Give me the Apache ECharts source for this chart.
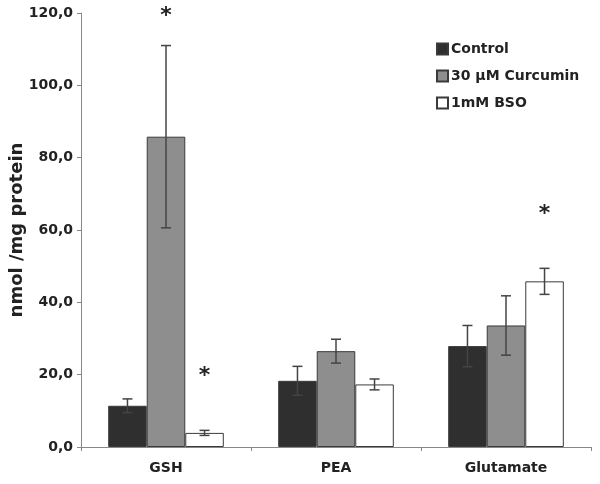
<!DOCTYPE html>
<html><head><meta charset="utf-8">
<script src="https://cdn.jsdelivr.net/npm/echarts@6/dist/echarts.min.js"></script>
<style>html,body{margin:0;padding:0;background:#fff}#c{width:600px;height:484px}</style>
</head><body><div id="c"></div>
<script>
var categories = ['GSH', 'PEA', 'Glutamate'];
var seriesNames = ['Control', '30 µM Curcumin', '1mM BSO'];
var controlValues = [11.4, 18.3, 27.9];
var curcuminValues = [85.8, 26.5, 33.6];
var bsoValues = [3.9, 17.3, 45.8];
var controlErrors = [1.9, 4.0, 5.7];
var curcuminErrors = [25.2, 3.3, 8.2];
var bsoErrors = [0.7, 1.5, 3.6];
var controlStars = [false, false, false];
var curcuminStars = [true, false, false];
var bsoStars = [true, false, true];
var yTicks = [0, 20, 40, 60, 80, 100, 120];

var values = [controlValues, curcuminValues, bsoValues];
var errors = [controlErrors, curcuminErrors, bsoErrors];
var stars = [controlStars, curcuminStars, bsoStars];
var fills = ['#2f2f2f', '#8e8e8e', '#ffffff'];
var catGap = 0.32;
var FONT = '"DejaVu Sans", sans-serif';

var chart = echarts.init(document.getElementById('c'), null, {renderer: 'canvas'});

var series = [];
seriesNames.forEach(function (name, s) {
  series.push({
    name: name, type: 'bar', data: values[s],
    barGap: 0, barCategoryGap: (catGap * 100) + '%',
    itemStyle: {color: fills[s], borderColor: '#3a3a3a', borderWidth: 1},
    emphasis: {disabled: true}, animation: false
  });
});
seriesNames.forEach(function (name, s) {
  series.push({
    type: 'custom', silent: true, animation: false, z: 5,
    data: categories.map(function (c, i) { return [i, values[s][i], errors[s][i], stars[s][i] ? 1 : 0]; }),
    encode: {x: 0, y: 1},
    renderItem: function (params, api) {
      var i = api.value(0), v = api.value(1), e = api.value(2), st = api.value(3);
      var center = api.coord([i, v]);
      var band = api.size([1, 0])[0];
      var bw = band * (1 - catGap) / 3;
      var x = center[0] + (s - 1) * bw;
      var top = api.coord([i, v + e])[1];
      var bot = api.coord([i, v - e])[1];
      var cap = 5;
      var st2 = {stroke: '#444', lineWidth: 1.5};
      var children = [
        {type: 'line', shape: {x1: x, y1: top, x2: x, y2: bot}, style: st2},
        {type: 'line', shape: {x1: x - cap, y1: top, x2: x + cap, y2: top}, style: st2},
        {type: 'line', shape: {x1: x - cap, y1: bot, x2: x + cap, y2: bot}, style: st2}
      ];
      if (st) {
        children.push({type: 'text', style: {text: '*', x: x, y: top - (s === 1 ? 40 : 65), fill: '#222',
          font: 'bold 22px ' + FONT, align: 'center', verticalAlign: 'top'}});
      }
      return {type: 'group', children: children};
    }
  });
});

chart.setOption({
  animation: false,
  backgroundColor: '#fff',
  grid: {left: 81, right: 9, top: 13, bottom: 37, containLabel: false, outerBoundsMode: 'none'},
  legend: {
    orient: 'vertical', left: 436, top: 42, padding: 0, itemWidth: 11, itemHeight: 11, itemGap: 13,
    data: seriesNames, icon: 'rect', selectedMode: false,
    textStyle: {fontFamily: FONT, fontWeight: 'bold', fontSize: 14, color: '#222', padding: [0, 0, 0, -2]}
  },
  xAxis: {
    type: 'category', data: categories,
    axisLine: {lineStyle: {color: '#888', width: 1}},
    axisTick: {show: true, length: 4, lineStyle: {color: '#888'}},
    axisLabel: {fontFamily: FONT, fontWeight: 'bold', fontSize: 14, color: '#222', margin: 14}
  },
  yAxis: {
    type: 'value', min: yTicks[0], max: yTicks[yTicks.length - 1], interval: yTicks[1] - yTicks[0],
    name: 'nmol /mg protein', nameLocation: 'middle', nameGap: 55, nameRotate: 90, nameMoveOverlap: false,
    nameTextStyle: {fontFamily: FONT, fontWeight: 'bold', fontSize: 18, color: '#222'},
    axisLine: {show: true, lineStyle: {color: '#888', width: 1}},
    axisTick: {show: true, length: 4, lineStyle: {color: '#888'}},
    splitLine: {show: false},
    axisLabel: {fontFamily: FONT, fontWeight: 'bold', fontSize: 14, color: '#222', margin: 8,
      formatter: function (v) { return v.toFixed(1).replace('.', ','); }}
  },
  series: series
});
</script></body></html>
